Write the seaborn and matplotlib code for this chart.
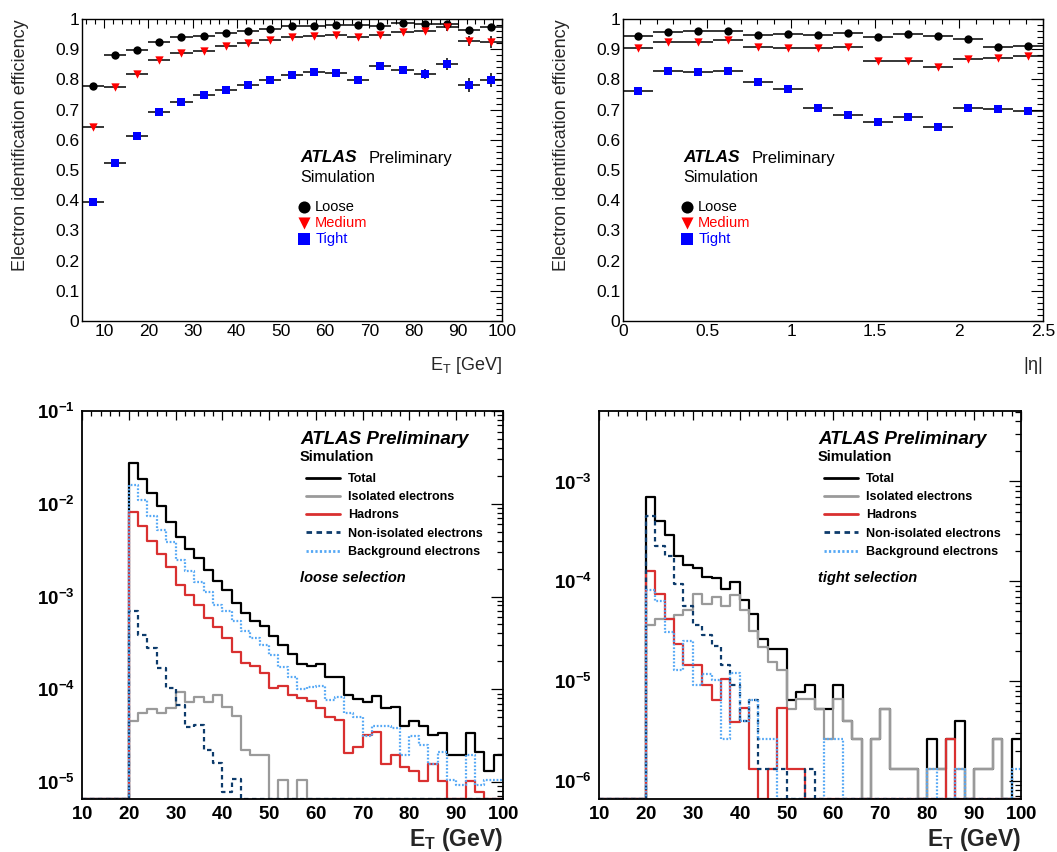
import numpy as np
import matplotlib
matplotlib.use("Agg")
import matplotlib.pyplot as plt
from matplotlib.ticker import MultipleLocator, LogLocator, FuncFormatter, NullFormatter
from matplotlib.lines import Line2D
import seaborn as sns

# ---------------------------------------------------------------- data
# efficiency vs E_T (5 GeV bins)
et_bin_centers = [7.5, 12.5, 17.5, 22.5, 27.5, 32.5, 37.5, 42.5, 47.5, 52.5,
                  57.5, 62.5, 67.5, 72.5, 77.5, 82.5, 87.5, 92.5, 97.5]
et_half_width = 2.5
loose_vs_et = [0.779, 0.882, 0.899, 0.924, 0.941, 0.945, 0.954, 0.961, 0.967, 0.977,
               0.978, 0.979, 0.979, 0.977, 0.987, 0.985, 0.983, 0.962, 0.975]
medium_vs_et = [0.644, 0.776, 0.818, 0.863, 0.888, 0.894, 0.910, 0.919, 0.930, 0.939,
                0.943, 0.946, 0.939, 0.946, 0.957, 0.960, 0.972, 0.928, 0.924]
tight_vs_et = [0.394, 0.524, 0.611, 0.691, 0.724, 0.749, 0.766, 0.780, 0.797, 0.814,
               0.824, 0.820, 0.799, 0.843, 0.830, 0.818, 0.852, 0.782, 0.798]
loose_vs_et_err = [0.003, 0.002, 0.002, 0.002, 0.002, 0.002, 0.002, 0.002, 0.003, 0.003,
                   0.003, 0.003, 0.004, 0.005, 0.005, 0.006, 0.008, 0.012, 0.008]
medium_vs_et_err = [0.005, 0.004, 0.003, 0.003, 0.003, 0.003, 0.003, 0.003, 0.004, 0.004,
                    0.004, 0.005, 0.005, 0.006, 0.007, 0.008, 0.012, 0.016, 0.020]
tight_vs_et_err = [0.006, 0.004, 0.004, 0.004, 0.004, 0.004, 0.004, 0.005, 0.005, 0.006,
                   0.007, 0.008, 0.009, 0.010, 0.013, 0.016, 0.020, 0.024, 0.024]

# efficiency vs |eta|
eta_bin_edges = [0.0, 0.179, 0.357, 0.536, 0.714, 0.893, 1.071, 1.25,
                 1.429, 1.607, 1.786, 1.964, 2.143, 2.321, 2.5]
loose_vs_eta = [0.945, 0.957, 0.959, 0.959, 0.946, 0.949, 0.948, 0.955,
                0.941, 0.949, 0.944, 0.933, 0.907, 0.910]
medium_vs_eta = [0.904, 0.925, 0.923, 0.929, 0.908, 0.904, 0.903, 0.908,
                 0.862, 0.860, 0.842, 0.867, 0.870, 0.878]
tight_vs_eta = [0.762, 0.829, 0.824, 0.829, 0.791, 0.769, 0.704, 0.682,
                0.660, 0.677, 0.641, 0.706, 0.702, 0.695]

# E_T spectra, 2 GeV bins from 10 to 100 GeV (first five bins below threshold are empty)
spec_edges = np.arange(10, 101, 2)
below_threshold = [0, 0, 0, 0, 0]

total_loose = below_threshold + [
    2.75e-2, 1.87e-2, 1.29e-2, 9.4e-3, 6.4e-3, 4.34e-3, 3.25e-3, 2.58e-3, 1.93e-3, 1.46e-3,
    1.17e-3, 8.6e-4, 6.6e-4, 5.5e-4, 4.8e-4, 3.76e-4, 3.0e-4, 2.42e-4, 1.88e-4, 1.80e-4,
    1.85e-4, 1.37e-4, 1.37e-4, 8.7e-5, 7.9e-5, 7.3e-5, 8.5e-5, 6.3e-5, 6.5e-5, 4.0e-5,
    4.6e-5, 4.0e-5, 3.25e-5, 3.4e-5, 1.96e-5, 1.96e-5, 3.4e-5, 2.1e-5, 1.3e-5, 1.96e-5]
isolated_loose = below_threshold + [
    4.57e-5, 5.6e-5, 6.2e-5, 5.6e-5, 6.3e-5, 9.3e-5, 7.3e-5, 8.2e-5, 7.3e-5, 8.6e-5,
    6.4e-5, 5.1e-5, 2.2e-5, 1.97e-5, 1.97e-5, 0, 1.06e-5, 0, 1.06e-5, 0,
    0, 0, 0, 0, 0, 0, 0, 0, 0, 0,
    0, 0, 0, 0, 0, 0, 0, 0, 0, 0]
hadrons_loose = below_threshold + [
    8.2e-3, 5.7e-3, 3.95e-3, 2.87e-3, 2.06e-3, 1.33e-3, 1.04e-3, 8.2e-4, 5.9e-4, 4.7e-4,
    3.6e-4, 2.5e-4, 1.94e-4, 1.79e-4, 1.49e-4, 1.03e-4, 1.09e-4, 8.7e-5, 8.0e-5, 7.5e-5,
    6.3e-5, 5.0e-5, 4.7e-5, 2.05e-5, 2.36e-5, 3.25e-5, 3.5e-5, 1.58e-5, 1.95e-5, 1.44e-5,
    1.31e-5, 1.03e-5, 1.58e-5, 1.03e-5, 0, 0, 1.03e-5, 7.8e-6, 0, 0]
nonisolated_loose = below_threshold + [
    6.9e-4, 3.8e-4, 2.8e-4, 1.69e-4, 1.02e-4, 6.7e-5, 3.9e-5, 4.1e-5, 2.2e-5, 1.6e-5,
    7.9e-6, 1.07e-5, 0, 0, 0, 0, 0, 0, 0, 0,
    0, 0, 0, 0, 0, 0, 0, 0, 0, 0,
    0, 0, 0, 0, 0, 0, 0, 0, 0, 0]
background_loose = below_threshold + [
    1.59e-2, 1.09e-2, 7.3e-3, 5.2e-3, 3.9e-3, 2.5e-3, 1.87e-3, 1.42e-3, 1.12e-3, 8.0e-4,
    7.0e-4, 5.4e-4, 4.2e-4, 3.6e-4, 3.0e-4, 2.35e-4, 1.75e-4, 1.35e-4, 1.0e-4, 1.05e-4,
    1.09e-4, 7.7e-5, 8.3e-5, 5.5e-5, 5.0e-5, 3.1e-5, 3.97e-5, 4.0e-5, 3.8e-5, 1.97e-5,
    3.1e-5, 2.5e-5, 1.58e-5, 2.09e-5, 1.06e-5, 9.3e-6, 1.97e-5, 9.3e-6, 1.06e-5, 1.06e-5]

total_tight = below_threshold + [
    6.92e-4, 4.04e-4, 2.9e-4, 1.81e-4, 1.47e-4, 1.35e-4, 1.1e-4, 1.08e-4, 8.4e-5, 9.8e-5,
    6.56e-5, 4.7e-5, 2.61e-5, 2.07e-5, 2.07e-5, 6.5e-6, 7.8e-6, 9.2e-6, 5.2e-6, 5.2e-6,
    9.2e-6, 3.95e-6, 2.6e-6, 0, 2.6e-6, 5.2e-6, 1.3e-6, 1.3e-6, 1.3e-6, 0,
    2.6e-6, 1.3e-6, 2.6e-6, 3.95e-6, 0, 1.3e-6, 1.3e-6, 2.6e-6, 0, 2.6e-6]
isolated_tight = below_threshold + [
    3.66e-5, 4.14e-5, 4.2e-5, 4.6e-5, 5.1e-5, 7.5e-5, 5.9e-5, 6.9e-5, 5.7e-5, 7.2e-5,
    5.1e-5, 3.2e-5, 2.19e-5, 1.55e-5, 1.28e-5, 5.2e-6, 6.56e-6, 6.56e-6, 5.2e-6, 2.6e-6,
    6.56e-6, 3.95e-6, 2.6e-6, 0, 2.6e-6, 5.2e-6, 1.3e-6, 1.3e-6, 1.3e-6, 0,
    1.3e-6, 1.3e-6, 0, 1.3e-6, 0, 1.3e-6, 1.3e-6, 2.6e-6, 0, 0]
hadrons_tight = below_threshold + [
    1.28e-4, 7.5e-5, 4.2e-5, 2.36e-5, 1.43e-5, 1.43e-5, 9.05e-6, 6.5e-6, 1.04e-5, 3.9e-6,
    5.3e-6, 1.3e-6, 0, 1.3e-6, 5.3e-6, 1.3e-6, 1.3e-6, 0, 0, 0,
    0, 0, 0, 0, 0, 0, 0, 0, 0, 0,
    0, 0, 2.6e-6, 0, 0, 0, 0, 0, 0, 0]
nonisolated_tight = below_threshold + [
    4.5e-4, 2.28e-4, 1.79e-4, 9.4e-5, 5.7e-5, 3.6e-5, 2.86e-5, 2.22e-5, 1.43e-5, 9.05e-6,
    4.0e-6, 6.5e-6, 1.3e-6, 1.3e-6, 1.3e-6, 0, 0, 1.3e-6, 0, 0,
    0, 0, 0, 0, 0, 0, 0, 0, 0, 0,
    0, 0, 0, 0, 0, 0, 0, 0, 0, 0]
background_tight = below_threshold + [
    8.1e-5, 6.4e-5, 3.1e-5, 1.3e-5, 2.5e-5, 9.05e-6, 1.18e-5, 1.03e-5, 2.6e-6, 1.2e-5,
    4.0e-6, 6.5e-6, 2.6e-6, 2.6e-6, 0, 0, 0, 0, 0, 2.6e-6,
    2.6e-6, 0, 0, 0, 0, 0, 0, 0, 0, 0,
    1.3e-6, 0, 0, 1.3e-6, 0, 0, 0, 0, 0, 1.3e-6]

menu_labels = ["Loose", "Medium", "Tight"]
component_labels = ["Total", "Isolated electrons", "Hadrons",
                    "Non-isolated electrons", "Background electrons"]

# ---------------------------------------------------------------- style
sns.set_theme(style="white")
plt.rcParams.update({
    "font.family": ["Liberation Sans", "DejaVu Sans"],
    "mathtext.fontset": "custom",
    "mathtext.rm": "Liberation Sans",
    "mathtext.it": "Liberation Sans:italic",
    "mathtext.bf": "Liberation Sans:bold",
    "axes.edgecolor": "black",
    "text.color": "black",
    "xtick.color": "black",
    "ytick.color": "black",
})

W, H = 1057, 852
fig = plt.figure(figsize=(W / 100, H / 100), dpi=100)


def px_box(left, top, right, bottom):
    return [left / W, 1 - bottom / H, (right - left) / W, (bottom - top) / H]


def fxy(x, y):
    return x / W, 1 - y / H


MENU_COLORS = ["black", "#ff0000", "#0000ff"]
MENU_MARKERS = ["o", "v", "s"]


def efficiency_panel(ax, centers, half, series, errors, xlim, major, minor, xlabel):
    for vals, err, col, mk, lab in zip(series, errors, MENU_COLORS, MENU_MARKERS, menu_labels):
        ax.errorbar(centers, vals, xerr=half, yerr=err, fmt="none",
                    ecolor="black", elinewidth=1.1, capsize=0, zorder=2)
        sns.scatterplot(x=centers, y=vals, marker=mk, s=36, color=col,
                        linewidth=0, ax=ax, zorder=3, label=lab)
    ax.set_xlim(*xlim)
    ax.set_ylim(0, 1)
    ax.xaxis.set_major_locator(MultipleLocator(major))
    ax.xaxis.set_minor_locator(MultipleLocator(minor))
    ax.yaxis.set_major_locator(MultipleLocator(0.1))
    ax.yaxis.set_minor_locator(MultipleLocator(0.02))
    fmt = FuncFormatter(lambda v, p: f"{v:g}")
    ax.xaxis.set_major_formatter(fmt)
    ax.yaxis.set_major_formatter(fmt)
    ax.tick_params(which="both", direction="in", top=True, right=True, width=0.8,
                   labelsize=12.5, pad=2)
    ax.tick_params(axis="y", which="major", length=8.5)
    ax.tick_params(axis="y", which="minor", length=4.3)
    ax.tick_params(axis="x", which="major", length=6.5)
    ax.tick_params(axis="x", which="minor", length=3.3)
    for s in ax.spines.values():
        s.set_linewidth(1.0)
    ax.set_ylabel("Electron identification efficiency", fontsize=13, loc="top")
    ax.yaxis.set_label_coords(-0.125, 1.0)
    ax.set_xlabel(xlabel, fontsize=13, loc="right")
    ax.xaxis.set_label_coords(1.0, -0.112)


def efficiency_text(ax, x0, atlas_w):
    fig.text(*fxy(x0, 158), "ATLAS", fontsize=12.5, fontweight="bold",
             style="italic", va="center")
    fig.text(*fxy(x0 + atlas_w, 158), "Preliminary", fontsize=12, va="center")
    fig.text(*fxy(x0, 178), "Simulation", fontsize=11.5, va="center")
    h, l = ax.get_legend_handles_labels()
    leg = ax.legend(h, l, loc="upper left", bbox_to_anchor=fxy(x0 - 3, 200),
                    bbox_transform=fig.transFigure, frameon=False, fontsize=10.5,
                    markerscale=1.45, handlelength=0.9, handletextpad=0.35,
                    labelspacing=0.14, borderpad=0, borderaxespad=0,
                    labelcolor=MENU_COLORS)
    return leg


# top-left: versus E_T
ax1 = fig.add_axes(px_box(82, 19, 502, 321))
efficiency_panel(ax1, et_bin_centers, et_half_width,
                 [loose_vs_et, medium_vs_et, tight_vs_et],
                 [loose_vs_et_err, medium_vs_et_err, tight_vs_et_err],
                 (5, 100), 10, 2, r"$\mathregular{E_T}$ [GeV]")
efficiency_text(ax1, 300, 69)

# top-right: versus |eta|
eta_edges_arr = np.array(eta_bin_edges)
eta_centers = 0.5 * (eta_edges_arr[1:] + eta_edges_arr[:-1])
eta_half = 0.5 * np.diff(eta_edges_arr)
ax2 = fig.add_axes(px_box(623, 19, 1043, 321))
efficiency_panel(ax2, eta_centers, eta_half,
                 [loose_vs_eta, medium_vs_eta, tight_vs_eta],
                 [None, None, None],
                 (0, 2.5), 0.5, 0.1, r"|$\mathregular{\eta}$|")
efficiency_text(ax2, 683, 69)

# ---------------------------------------------------------------- spectra
COMP_STYLE = [
    dict(color="black", linestyle="-"),
    dict(color="#9a9a9a", linestyle="-"),
    dict(color="#d93030", linestyle="-"),
    dict(color="#0d3b6b", linestyle=(0, (2.0, 1.6))),
    dict(color="#55a8f5", linestyle=(0, (0.8, 0.8))),
]


def spectrum_panel(ax, comps, ylim, tag, x0):
    ax.set_yscale("log")
    ax.set_xlim(10, 100)
    ax.set_ylim(*ylim)
    handles = []
    for vals, sty, lab in zip(comps, COMP_STYLE, component_labels):
        v = np.asarray(vals, dtype=float)
        v = np.where(v > 0, v, ylim[0])
        yy = np.append(v, v[-1])
        sns.lineplot(x=spec_edges, y=yy, drawstyle="steps-post", estimator=None,
                     sort=False, lw=1.6, ax=ax, color=sty["color"],
                     linestyle=sty["linestyle"])
        handles.append(Line2D([], [], color=sty["color"], linestyle=sty["linestyle"], lw=2.0))
    ax.xaxis.set_major_locator(MultipleLocator(10))
    ax.xaxis.set_minor_locator(MultipleLocator(2))
    ax.xaxis.set_major_formatter(FuncFormatter(lambda v, p: rf"$\mathbf{{{v:g}}}$"))
    ax.yaxis.set_major_locator(LogLocator(base=10))
    ax.yaxis.set_minor_locator(LogLocator(base=10, subs=np.arange(2, 10)))
    ax.yaxis.set_minor_formatter(NullFormatter())
    ax.yaxis.set_major_formatter(FuncFormatter(
        lambda v, p: rf"$\mathbf{{10^{{{int(round(np.log10(v)))}}}}}$"))
    ax.tick_params(which="both", direction="in", top=True, right=True, width=0.9)
    ax.tick_params(axis="x", which="major", length=6.5, labelsize=13.5, pad=5)
    ax.tick_params(axis="x", which="minor", length=3.5)
    ax.tick_params(axis="y", which="major", length=9, labelsize=13.5, pad=5)
    ax.tick_params(axis="y", which="minor", length=4.5)
    for s in ax.spines.values():
        s.set_linewidth(1.3)
    ax.set_xlabel(r"$\mathbf{E_T}$ (GeV)", fontsize=16.5, fontweight="bold", loc="right")
    ax.xaxis.set_label_coords(1.0, -0.07)
    ax.set_ylabel("")
    if ax.get_legend() is not None:
        ax.get_legend().remove()

    fig.text(*fxy(x0, 439), "ATLAS Preliminary", fontsize=13.5, fontweight="bold",
             style="italic", va="center")
    fig.text(*fxy(x0, 457), "Simulation", fontsize=10.5, fontweight="bold", va="center")
    fig.text(*fxy(x0, 578), tag, fontsize=10.5, fontweight="bold", style="italic",
             va="center")
    ax.legend(handles, component_labels, loc="upper left",
              bbox_to_anchor=fxy(x0 + 6, 473), bbox_transform=fig.transFigure,
              frameon=False, prop=dict(weight="bold", size=9),
              handlelength=2.75, handletextpad=0.6, labelspacing=0.5,
              borderpad=0, borderaxespad=0)


ax3 = fig.add_axes(px_box(82, 411, 503, 799))
spectrum_panel(ax3, [total_loose, isolated_loose, hadrons_loose,
                     nonisolated_loose, background_loose],
               (6.56e-6, 1e-1), "loose selection", 300)

ax4 = fig.add_axes(px_box(599, 411, 1021, 799))
spectrum_panel(ax4, [total_tight, isolated_tight, hadrons_tight,
                     nonisolated_tight, background_tight],
               (6.56e-7, 5.09e-3), "tight selection", 818)

fig.savefig("out.png", dpi=100, facecolor="white")
